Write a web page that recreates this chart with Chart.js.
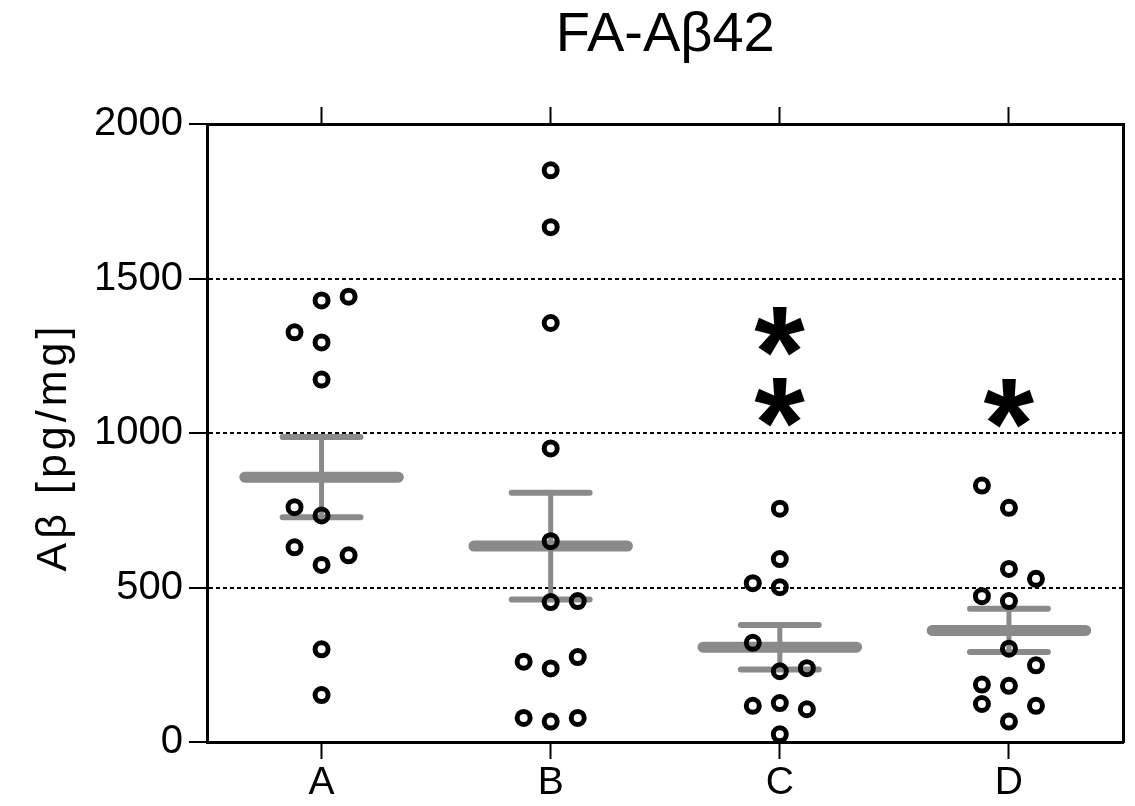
<!DOCTYPE html>
<html>
<head>
<meta charset="UTF-8">
<title>FA-Aβ42</title>
<script src="https://cdn.jsdelivr.net/npm/chart.js@4"></script>
<style>
  html, body { margin: 0; padding: 0; background: #fff; }
  #chart { display: block; }
</style>
</head>
<body>
<canvas id="chart" width="1135" height="806"></canvas>
<script>
const groups = ['A', 'B', 'C', 'D'];

// individual samples (pg/mg) and their jitter column (-1 left, 0 centre, 1 right)
const valuesA = [1429, 1441, 1326, 1293, 1173, 760, 733, 630, 604, 573, 300, 152];
const slotsA  = [0, 1, -1, 0, 0, -1, 0, -1, 1, 0, 0, 0];
const valuesB = [1850, 1666, 1356, 950, 650, 453, 456, 260, 238, 275, 78, 66, 78];
const slotsB  = [0, 0, 0, 0, 0, 0, 1, -1, 0, 1, -1, 0, 1];
const valuesC = [755, 592, 514, 501, 321, 229, 239, 117, 126, 106, 25];
const slotsC  = [0, 0, -1, 0, -1, 0, 1, -1, 0, 1, 0];
const valuesD = [830, 758, 560, 528, 472, 456, 302, 248, 186, 182, 123, 117, 66];
const slotsD  = [-1, 0, 0, 1, -1, 0, 0, 1, -1, 0, -1, 1, 0];

// group mean and SEM
const means = [857, 634, 307, 361];
const sems  = [130, 173, 72, 70];

const yTicks = [0, 500, 1000, 1500, 2000];

// significance stars: group index and height
const starGroup = [2, 2, 3];
const starY = [1330, 1100, 1095];

const allValues = [valuesA, valuesB, valuesC, valuesD];
const allSlots = [slotsA, slotsB, slotsC, slotsD];

const JITTER = 0.118;
const MEAN_HALF = 0.335;
const CAP_HALF = 0.17;
const GREY = '#8a8a8a';
const FONT = "'Liberation Sans', Arial, sans-serif";

const points = [];
allValues.forEach((vals, g) => {
  vals.forEach((v, i) => points.push({ x: g + allSlots[g][i] * JITTER, y: v }));
});

const datasets = [{
  label: 'samples',
  data: points,
  pointStyle: 'circle',
  pointRadius: 6.5,
  pointBorderWidth: 5,
  pointBorderColor: '#000',
  pointBackgroundColor: 'rgba(0,0,0,0)',
  order: 0
}];

function segment(data, width, cap) {
  datasets.push({
    data: data,
    showLine: true,
    borderColor: GREY,
    borderWidth: width,
    borderCapStyle: cap,
    pointRadius: 0,
    order: 1
  });
}

groups.forEach((_, g) => {
  const m = means[g], s = sems[g];
  segment([{ x: g - MEAN_HALF, y: m }, { x: g + MEAN_HALF, y: m }], 11, 'round');
  segment([{ x: g, y: m - s }, { x: g, y: m + s }], 5, 'butt');
  segment([{ x: g - CAP_HALF, y: m + s }, { x: g + CAP_HALF, y: m + s }], 6, 'round');
  segment([{ x: g - CAP_HALF, y: m - s }, { x: g + CAP_HALF, y: m - s }], 6, 'round');
});

const catTicks = s => { s.ticks = groups.map((_, i) => ({ value: i })); };

// rotated y-axis title, drawn with a little letter spacing
const yTitlePlugin = {
  id: 'yTitle',
  afterDraw(chart) {
    const ctx = chart.ctx;
    ctx.save();
    ctx.translate(66, 447);
    ctx.rotate(-Math.PI / 2);
    ctx.font = '43px ' + FONT;
    ctx.letterSpacing = '4px';
    ctx.fillStyle = '#000';
    ctx.textAlign = 'center';
    ctx.textBaseline = 'alphabetic';
    ctx.fillText('Aβ [pg/mg]', 0, 0);
    ctx.restore();
  }
};

// asterisks above groups that differ from A
const starPlugin = {
  id: 'stars',
  afterDatasetsDraw(chart) {
    const ctx = chart.ctx;
    const xs = chart.scales.x, ys = chart.scales.y;
    ctx.save();
    ctx.font = 'bold 130px ' + FONT;
    ctx.fillStyle = '#000';
    ctx.textAlign = 'left';
    ctx.textBaseline = 'alphabetic';
    const m = ctx.measureText('*');
    const w = m.actualBoundingBoxRight + m.actualBoundingBoxLeft;
    const h = m.actualBoundingBoxAscent + m.actualBoundingBoxDescent;
    starGroup.forEach((g, i) => {
      const px = xs.getPixelForValue(g);
      const py = ys.getPixelForValue(starY[i]);
      ctx.fillText('*', px - w / 2 + m.actualBoundingBoxLeft, py - h / 2 + m.actualBoundingBoxAscent);
    });
    ctx.restore();
  }
};

new Chart(document.getElementById('chart'), {
  type: 'scatter',
  data: { datasets: datasets },
  plugins: [yTitlePlugin, starPlugin],
  options: {
    responsive: false,
    animation: false,
    layout: { padding: 0 },
    plugins: {
      legend: { display: false },
      tooltip: { enabled: false },
      title: {
        display: true,
        text: 'FA-Aβ42',
        fullSize: false,
        color: '#000',
        font: { family: FONT, size: 56, weight: 'normal', lineHeight: 1.2 },
        padding: { top: 2, bottom: 0 }
      }
    },
    scales: {
      x: {
        type: 'linear',
        position: 'bottom',
        min: -0.5,
        max: 3.5,
        afterBuildTicks: catTicks,
        afterFit: s => { s.height = 64; },
        ticks: {
          callback: v => groups[v],
          color: '#000',
          font: { family: FONT, size: 39 },
          padding: 1,
          maxRotation: 0,
          autoSkip: false
        },
        grid: { drawOnChartArea: false, tickLength: 17, tickWidth: 2, tickColor: '#000' },
        border: { color: '#000', width: 3 }
      },
      x2: {
        type: 'linear',
        position: 'top',
        min: -0.5,
        max: 3.5,
        afterBuildTicks: catTicks,
        afterFit: s => { s.height = 54.8; },
        ticks: { display: false },
        grid: { drawOnChartArea: false, tickLength: 17, tickWidth: 2, tickColor: '#000' },
        border: { color: '#000', width: 3 }
      },
      y: {
        min: 0,
        max: 2000,
        afterBuildTicks: s => { s.ticks = yTicks.map(v => ({ value: v })); },
        afterFit: s => { s.width = 207; },
        ticks: { color: '#000', font: { family: FONT, size: 40 }, padding: 6, callback: v => String(v) },
        grid: {
          color: c => (c.tick && c.tick.value > 0 && c.tick.value < 2000) ? '#000' : 'rgba(0,0,0,0)',
          lineWidth: 2,
          tickLength: 18,
          tickWidth: 2,
          tickColor: '#000',
          tickBorderDash: []
        },
        border: { color: '#000', width: 3, dash: [4, 3] }
      },
      y2: {
        position: 'right',
        min: 0,
        max: 2000,
        afterFit: s => { s.width = 8; },
        ticks: { display: false },
        grid: { drawOnChartArea: false, drawTicks: false },
        border: { color: '#000', width: 3 }
      }
    }
  }
});
</script>
</body>
</html>
